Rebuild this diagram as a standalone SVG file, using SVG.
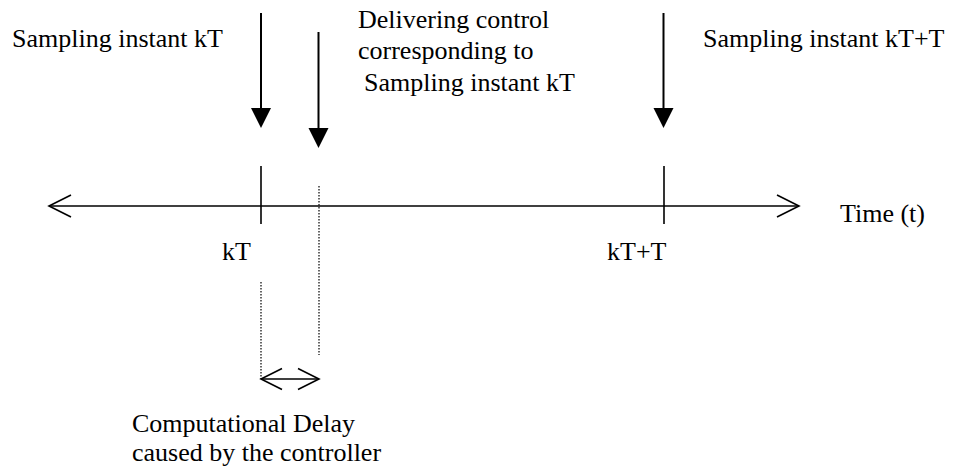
<svg xmlns="http://www.w3.org/2000/svg" width="953" height="472" viewBox="0 0 953 472">
  <style>
    text { font-family: "Liberation Serif", "Times New Roman", serif; font-size: 26px; fill: #000; }
    .line { stroke: #000; stroke-width: 2; fill: none; }
    .axis { stroke: #000; stroke-width: 1.6; fill: none; }
    .dot { stroke: #000; stroke-width: 1.2; stroke-dasharray: 1.5 1.5; fill: none; }
    .head { fill: #000; stroke: none; }
  </style>
  <rect width="953" height="472" fill="#fff"/>

  <!-- time axis with open arrowheads at both ends -->
  <g id="time-axis">
    <line class="axis" x1="49" y1="206" x2="799" y2="206"/>
    <polyline class="axis" points="71,195 49,206 71,217"/>
    <polyline class="axis" points="777,195 799,206 777,217"/>
    <line class="axis" x1="261" y1="166" x2="261" y2="224"/>
    <line class="axis" x1="664" y1="166" x2="664" y2="224"/>
    <text x="840" y="222">Time (t)</text>
    <text x="222" y="260">kT</text>
    <text x="607" y="260">kT+T</text>
  </g>

  <!-- sampling instant kT -->
  <g id="sample-kT">
    <text x="12" y="47">Sampling instant kT</text>
  </g>

  <!-- control delivery -->
  <g id="delivery">
    <text x="358" y="28">Delivering control</text>
    <text x="358" y="59">corresponding to</text>
    <text x="364" y="90.5">Sampling instant kT</text>
  </g>

  <!-- sampling instant kT+T -->
  <g id="sample-kT1">
    <text x="703" y="47">Sampling instant kT+T</text>
  </g>

  <!-- computational delay -->
  <g id="delay">
    <text x="132" y="432">Computational Delay</text>
    <text x="132" y="461">caused by the controller</text>
  </g>

  <g id="connectors">
    <!-- down arrows marking instants -->
    <line class="line" x1="261" y1="13" x2="261" y2="110"/>
    <polygon class="head" points="251,108 271,108 261,128"/>
    <line class="line" x1="318.5" y1="32" x2="318.5" y2="130"/>
    <polygon class="head" points="308.5,128 328.5,128 318.5,148"/>
    <line class="line" x1="663.5" y1="13" x2="663.5" y2="110"/>
    <polygon class="head" points="653.5,108 673.5,108 663.5,128"/>

    <!-- dotted guides -->
    <line class="dot" x1="319" y1="186" x2="319" y2="355"/>
    <line class="dot" x1="261" y1="282" x2="261" y2="379"/>

    <!-- delay span -->
    <line class="axis" x1="261" y1="379" x2="319" y2="379"/>
    <polyline class="axis" points="282,368.5 261,379 282,389.5"/>
    <polyline class="axis" points="298,368.5 319,379 298,389.5"/>
  </g>
</svg>
